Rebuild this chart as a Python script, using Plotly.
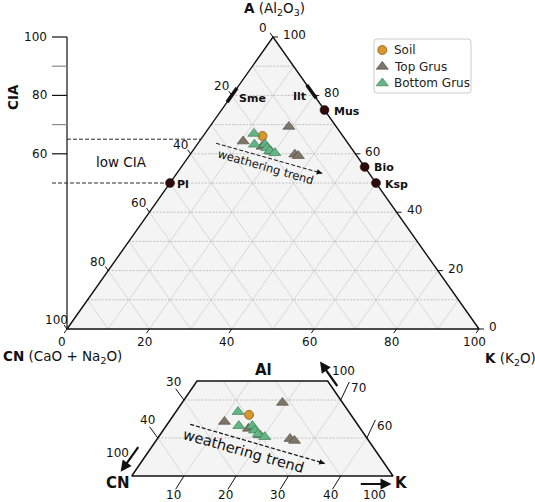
import plotly.graph_objects as go

W, H = 535, 502
FONT = "DejaVu Sans"
INK = "#111111"

# ------------------------------------------------------------------ data
# molar proportions (%) in the A-CN-K system ; CN = 100 - A - K
soil_A = [66.1]
soil_K = [14.4]
top_grus_A = [64.3, 69.3, 59.8, 59.3, 62.5, 60.8]
top_grus_K = [10.6, 19.2, 25.4, 26.5, 16.1, 19.1]
bottom_grus_A = [66.9, 63.2, 63.2, 62.0, 61.0, 60.3]
bottom_grus_K = [11.9, 13.9, 16.5, 17.5, 18.7, 20.3]

mineral_names = ["Pl", "Mus", "Bio", "Ksp"]
mineral_A = [50, 75, 55.5, 50]
mineral_K = [0, 25, 44.5, 50]
sme_A = [77.7, 82.5]      # smectite range on A-CN edge (K = 0)
ilt_A = [79.0, 83.6]      # illite range on A-K edge (CN = 0)

cia_major = [60, 80, 100]
cia_minor = [70, 90]
cia_lines = [65, 50]

tern_ticks = [0, 20, 40, 60, 80, 100]
grid_steps = [10, 20, 30, 40, 50, 60, 70, 80, 90]

trend_A = [63.6, 53.3]
trend_K = [4.4, 35.3]

inset_A = [50, 75]
inset_cn_ticks = [30, 40]
inset_a_ticks = [70, 60]
inset_k_ticks = [10, 20, 30, 40]

# ------------------------------------------------------------------ geometry (pixels)
MX0, MX1, MY0, MY1 = 67.0, 479.0, 329.0, 37.0          # main triangle
msx = (MX1 - MX0) / 100.0
msy = (MY0 - MY1) / 100.0
IXL, IXR, IYB, IYT = 131.7, 393.0, 476.0, 381.0       # inset trapezoid
span_k = 100 - inset_A[0]
isx = (IXR - IXL) / span_k
isy = (IYB - IYT) / (inset_A[1] - inset_A[0])
IX0 = IXL - isx * inset_A[0] / 2.0
IY0 = IYB + isy * inset_A[0]


def tx(a, k):
    return k + a / 2.0


def mpx(px):
    return (px - MX0) / msx


def mpy(py):
    return (MY0 - py) / msy


def PX(px):
    return px / W


def PY(py):
    return 1 - py / H


fig = go.Figure()


def add_line(xs, ys, color, width, dash=None, inset=False, fill=None, fillcolor=None):
    tr = go.Scatter(x=xs, y=ys, mode="lines",
                    line=dict(color=color, width=width, dash=dash),
                    hoverinfo="skip", showlegend=False)
    if fill:
        tr.update(fill=fill, fillcolor=fillcolor)
    if inset:
        tr.update(xaxis="x2", yaxis="y2")
    fig.add_trace(tr)


ann = []


def text(x, y, s, size=12, bold=False, xanchor="center", yanchor="middle",
         xref="x", yref="y", xshift=0, yshift=0, angle=0, color=INK):
    if bold:
        s = "<b>" + s + "</b>"
    ann.append(dict(x=x, y=y, xref=xref, yref=yref, text=s, showarrow=False,
                    font=dict(family=FONT, size=size, color=color),
                    xanchor=xanchor, yanchor=yanchor, xshift=xshift,
                    yshift=yshift, textangle=angle))


GRID_H = dict(color="#b3b3b3", width=0.8, dash="2px,1.5px")
GRID_D = dict(color="#cfcfcf", width=0.8)

# ------------------------------------------------------------------ main triangle
add_line([tx(0, 0), tx(0, 100), tx(100, 0), tx(0, 0)], [0, 0, 100, 0],
         "rgba(0,0,0,0)", 0, fill="toself", fillcolor="#f4f4f4")

hx, hy, dx, dy = [], [], [], []
for v in grid_steps:
    hx += [tx(v, 0), tx(v, 100 - v), None]
    hy += [v, v, None]
    dx += [tx(0, v), tx(100 - v, v), None]
    dy += [0, 100 - v, None]
    dx += [tx(0, 100 - v), tx(100 - v, 0), None]
    dy += [0, 100 - v, None]
add_line(dx, dy, GRID_D["color"], GRID_D["width"])
add_line(hx, hy, GRID_H["color"], GRID_H["width"], GRID_H["dash"])
add_line([tx(0, 0), tx(0, 100), tx(100, 0), tx(0, 0)], [0, 0, 100, 0], INK, 1.4)

# tick marks + labels on the three edges
tkx, tky = [], []
for cn in tern_ticks:                       # left edge, CN
    a = 100 - cn
    x0, y0 = tx(a, 0), a
    tkx += [x0, x0 - 2.9 / msx, None]
    tky += [y0, y0 + 4.1 / msy, None]
    text(x0, y0, str(cn), xshift=-10.5, yshift=9)
for a in tern_ticks:                        # right edge, A
    x0, y0 = tx(a, 100 - a), a
    tkx += [x0, x0 + 5 / msx, None]
    tky += [y0, y0, None]
    text(x0, y0, str(a), xanchor="left", xshift=8, yshift=2)
for k in tern_ticks:                        # bottom edge, K
    x0, y0 = tx(0, k), 0
    tkx += [x0, x0 - 2.9 / msx, None]
    tky += [y0, y0 - 4.1 / msy, None]
    text(x0, y0, str(k), xshift=-5, yshift=-13)
add_line(tkx, tky, INK, 1)

# CIA axis
add_line([0, 0], [0, 100], INK, 1.2)
cx, cy = [], []
for c in cia_major:
    cx += [-15 / msx, 0, None]
    cy += [c, c, None]
    text(mpx(49), c, str(c), xanchor="right")
add_line(cx, cy, INK, 1.2)
gx, gy = [], []
for c in cia_minor:
    gx += [-15 / msx, 0, None]
    gy += [c, c, None]
add_line(gx, gy, "#8a8a8a", 1.2)
add_line([0, tx(cia_lines[0], 0)], [cia_lines[0]] * 2, INK, 0.9, "4px,2px")
add_line([-15 / msx, tx(cia_lines[1], 0)], [cia_lines[1]] * 2, INK, 0.9, "4px,2px")
text(PX(12.5), PY(97.5), "CIA", size=13.5, bold=True, xref="paper", yref="paper", angle=-90)
text(PX(121), PY(162.5), "low CIA", size=13.5, xref="paper", yref="paper")

# mineral end-members
add_line([tx(a, 0) for a in sme_A], sme_A, INK, 3.5)
add_line([tx(a, 100 - a) for a in ilt_A], ilt_A, INK, 3.5)
sm = sum(sme_A) / 2
il = sum(ilt_A) / 2
text(tx(sm, 0), sm, "Sme", size=11, bold=True, xanchor="left", xshift=5, yshift=-3)
text(tx(il, 100 - il), il, "Ilt", size=11, bold=True, xanchor="right", xshift=-4, yshift=-5)
fig.add_trace(go.Scatter(x=[tx(a, k) for a, k in zip(mineral_A, mineral_K)], y=mineral_A,
                         mode="markers", hoverinfo="skip", showlegend=False,
                         marker=dict(symbol="circle", size=9, color="#2e0a0a",
                                     line=dict(color="#1a0505", width=0.5))))
for nm, a, k in zip(mineral_names, mineral_A, mineral_K):
    text(tx(a, k), a, nm, size=11, bold=True, xanchor="left",
         xshift=5 if nm == "Pl" else 7, yshift=-1)

# ------------------------------------------------------------------ sample styles
SOIL = dict(symbol="circle", size=9, color="#d8962c", line=dict(color="#8c5e14", width=0.8))
TOP = dict(symbol="triangle-up", size=10.5, color="#7e7468", line=dict(color="#4f473e", width=0.6))
BOT = dict(symbol="triangle-up", size=10.5, color="#63b585", line=dict(color="#2f7548", width=0.6))
series = [("Soil", soil_A, soil_K, SOIL),
          ("Top Grus", top_grus_A, top_grus_K, TOP),
          ("Bottom Grus", bottom_grus_A, bottom_grus_K, BOT)]


def add_samples(inset):
    for name, A, K, st in series:
        tr = go.Scatter(x=[tx(a, k) for a, k in zip(A, K)], y=A, mode="markers",
                        name=name, marker=st, showlegend=False,
                        hovertemplate=name + "<extra></extra>")
        if inset:
            tr.update(xaxis="x2", yaxis="y2")
        fig.add_trace(tr)


def add_trend(inset, width):
    add_line([tx(a, k) for a, k in zip(trend_A, trend_K)],
             trend_A, INK, width, "4px,2px", inset=inset)
    ux = (trend_K[1] - trend_K[0]) + (trend_A[1] - trend_A[0]) / 2
    uy = trend_A[1] - trend_A[0]
    sx, sy = (isx, isy) if inset else (msx, msy)
    vx, vy = ux * sx, -uy * sy
    n = (vx ** 2 + vy ** 2) ** 0.5
    ann.append(dict(x=tx(trend_A[1], trend_K[1]), y=trend_A[1],
                    xref="x2" if inset else "x", yref="y2" if inset else "y",
                    ax=-7 * vx / n, ay=-7 * vy / n, text="", showarrow=True,
                    arrowhead=2, arrowsize=1.1, arrowwidth=1, arrowcolor=INK))


add_trend(False, 1)
add_samples(False)
text(PX(265.8), PY(167.5), "weathering trend", size=11.5, xref="paper", yref="paper", angle=16)

# legend (drawn by hand)
lx0, lx1, ly0, ly1, r = 374, 471, 39, 93, 3
path = ("M{a},{t} L{b},{t} Q{x1},{t} {x1},{t2} L{x1},{b2} Q{x1},{bt} {b},{bt} "
        "L{a},{bt} Q{x0},{bt} {x0},{b2} L{x0},{t2} Q{x0},{t} {a},{t} Z").format(
    a=PX(lx0 + r), b=PX(lx1 - r), x0=PX(lx0), x1=PX(lx1), t=PY(ly0), t2=PY(ly0 + r),
    bt=PY(ly1), b2=PY(ly1 - r))
shapes = [dict(type="path", path=path, xref="paper", yref="paper",
               line=dict(color="#cccccc", width=1), fillcolor="white", layer="below")]
for i, (name, A, K, st) in enumerate(series):
    yy = 50 + i * 16.6
    fig.add_trace(go.Scatter(x=[mpx(382.3)], y=[mpy(yy)], mode="markers", marker=st,
                             hoverinfo="skip", showlegend=False))
    text(PX(391.5), PY(yy), name, size=12, xanchor="left", xref="paper", yref="paper", color="#222222")

# axis titles
text(PX(242), PY(9), "<b>A</b> (Al<sub>2</sub>O<sub>3</sub>)", size=13.5, xanchor="left",
     xref="paper", yref="paper")
text(PX(1), PY(357), "<b>CN</b> (CaO + Na<sub>2</sub>O)", size=13.5, xanchor="left",
     xref="paper", yref="paper")
text(PX(483), PY(359), "<b>K</b> (K<sub>2</sub>O)", size=13.5, xanchor="left",
     xref="paper", yref="paper")

# ------------------------------------------------------------------ inset
a0, a1 = inset_A
poly_a = [a0, a0, a1, a1, a0]
poly_k = [0, 100 - a0, 100 - a1, 0, 0]
add_line([tx(a, k) for a, k in zip(poly_a, poly_k)], poly_a, "rgba(0,0,0,0)", 0,
         inset=True, fill="toself", fillcolor="#f4f4f4")
hx, hy, dx, dy = [], [], [], []
for v in grid_steps:
    if a0 < v < a1:
        hx += [tx(v, 0), tx(v, 100 - v), None]
        hy += [v, v, None]
    if 0 < v < 100 - a0:
        ae = min(a1, 100 - v)
        dx += [tx(a0, v), tx(ae, v), None]          # K = v
        dy += [a0, ae, None]
        dx += [tx(a0, 100 - v - a0), tx(ae, 100 - v - ae), None]   # CN = v
        dy += [a0, ae, None]
add_line(dx, dy, GRID_D["color"], GRID_D["width"], inset=True)
add_line(hx, hy, GRID_H["color"], GRID_H["width"], GRID_H["dash"], inset=True)
add_line([tx(a, k) for a, k in zip(poly_a, poly_k)], poly_a, INK, 1.5, inset=True)

tkx, tky = [], []
for cn in inset_cn_ticks:
    a = 100 - cn
    x0 = tx(a, 0)
    tkx += [x0, x0 - 8.3 / isx, None]
    tky += [a, a + 11.3 / isy, None]
    text(x0, a, str(cn), xref="x2", yref="y2", xshift=-10.5, yshift=18.5)
for a in inset_a_ticks:
    x0 = tx(a, 100 - a)
    tkx += [x0, x0 + 8.5 / isx, None]
    tky += [a, a + 18 / isy, None]
    text(x0, a, str(a), xref="x2", yref="y2", xanchor="left", xshift=8.5, yshift=12.5)
for k in inset_k_ticks:
    x0 = tx(a0, k)
    tkx += [x0, x0 - 8.3 / isx, None]
    tky += [a0, a0 - 13.3 / isy, None]
    text(x0, a0, str(k), xref="x2", yref="y2", xshift=-10.5, yshift=-19)
add_line(tkx, tky, INK, 1, inset=True)

add_trend(True, 1.2)
add_samples(True)
text(PX(243.3), PY(450.8), "weathering trend", size=14.5, xref="paper", yref="paper", angle=16)

text(PX(263), PY(370), "Al", size=15, bold=True, xref="paper", yref="paper")
text(PX(117.5), PY(483), "CN", size=15, bold=True, xref="paper", yref="paper")
text(PX(401.7), PY(483), "K", size=15, bold=True, xref="paper", yref="paper")
for (tipx, tipy, tailx, taily) in [(120.7, 471.7, 139.3, 445.7), (391.5, 484, 359.3, 484),
                                    (320, 361.5, 338.3, 387.5)]:
    ann.append(dict(x=PX(tipx), y=PY(tipy), xref="paper", yref="paper",
                    ax=tailx - tipx, ay=taily - tipy, text="", showarrow=True,
                    arrowhead=2, arrowsize=1, arrowwidth=2.2, arrowcolor=INK))
text(PX(117.5), PY(452.5), "100", xref="paper", yref="paper")
text(PX(374), PY(495), "100", xref="paper", yref="paper")
text(PX(343), PY(371), "100", xref="paper", yref="paper")

fig.update_layout(
    width=W, height=H, margin=dict(l=0, r=0, t=0, b=0),
    paper_bgcolor="white", plot_bgcolor="rgba(0,0,0,0)", showlegend=False,
    xaxis=dict(range=[-MX0 / msx, (W - MX0) / msx], domain=[0, 1], visible=False, fixedrange=True),
    yaxis=dict(range=[-(H - MY0) / msy, MY0 / msy], domain=[0, 1], visible=False, fixedrange=True),
    xaxis2=dict(range=[-IX0 / isx, (W - IX0) / isx], overlaying="x", anchor="y2",
                visible=False, fixedrange=True),
    yaxis2=dict(range=[(IY0 - H) / isy, IY0 / isy], overlaying="y", anchor="x2",
                visible=False, fixedrange=True),
    annotations=ann, shapes=shapes,
)

fig.write_html("out.html", config={"displayModeBar": False},
               post_script="document.body.style.margin='0';document.body.style.overflow='hidden';")
